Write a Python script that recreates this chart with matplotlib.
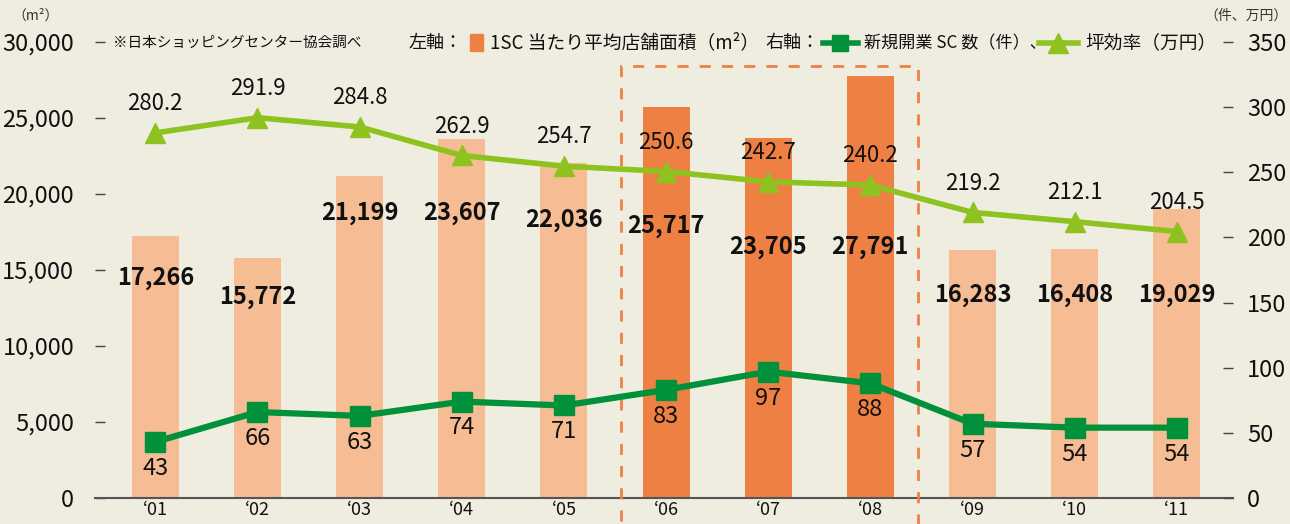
import matplotlib
matplotlib.use("Agg")
import matplotlib.pyplot as plt
from matplotlib.patches import Rectangle
from matplotlib.lines import Line2D

plt.rcParams['font.family'] = ['Noto Sans CJK JP', 'DejaVu Sans']

# データ（日本ショッピングセンター協会調べ）
years = ["‘01", "‘02", "‘03", "‘04", "‘05", "‘06", "‘07", "‘08", "‘09", "‘10", "‘11"]
area = [17266, 15772, 21199, 23607, 22036, 25717, 23705, 27791, 16283, 16408, 19029]
new_sc = [43, 66, 63, 74, 71, 83, 97, 88, 57, 54, 54]
tsubo = [280.2, 291.9, 284.8, 262.9, 254.7, 250.6, 242.7, 240.2, 219.2, 212.1, 204.5]
highlight = [False, False, False, False, False, True, True, True, False, False, False]
# 棒グラフ数値ラベルの縦位置（左軸の値）
area_label_y = [14470, 13220, 18750, 18750, 18290, 17900, 16510, 16510, 13350, 13350, 13350]

bg = "#EFEDE0"
light = "#F6BC93"
dark = "#EF8044"
green = "#00913A"
lime = "#8DC21F"
txt = "#111111"

fig = plt.figure(figsize=(12.9, 5.24), dpi=100, facecolor=bg)
ax = fig.add_axes([95 / 1290, 1 - 498 / 524, (1233 - 95) / 1290, (498 - 42) / 524])
ax.set_facecolor(bg)
x = list(range(len(years)))

cols = [dark if h else light for h in highlight]
ax.bar(x, area, width=0.46, color=cols, zorder=1)
for i in x:
    ax.text(i, area_label_y[i], f"{area[i]:,}", ha='center', va='center',
            fontsize=17, fontweight='bold', color=txt, zorder=5)

ax.set_xlim(-0.59, 10.55)
ax.set_ylim(0, 30000)
ax.set_yticks(range(0, 30001, 5000))
ax.set_yticklabels([f"{v:,}" for v in range(0, 30001, 5000)])
ax.set_xticks(x)
ax.set_xticklabels(years)
ax.tick_params(axis='x', length=0, pad=2, labelsize=13, labelcolor=txt)
ax.tick_params(axis='y', direction='in', length=7, width=1, color='#444444',
               pad=15, labelsize=17, labelcolor=txt)
for s in ['top', 'left', 'right']:
    ax.spines[s].set_visible(False)
ax.spines['bottom'].set_color('#555555')
ax.spines['bottom'].set_linewidth(1.5)

ax2 = ax.twinx()
ax2.set_ylim(0, 350)
ax2.set_yticks(range(0, 351, 50))
ax2.tick_params(axis='y', direction='in', length=7, width=1, color='#444444',
                pad=10, labelsize=17, labelcolor=txt)
for s in ax2.spines.values():
    s.set_visible(False)

ax2.plot(x, tsubo, color=lime, lw=4, marker='^', markersize=15, zorder=3)
ax2.plot(x, new_sc, color=green, lw=4.5, marker='s', markersize=14, zorder=3)
for i in x:
    ax2.annotate(f"{tsubo[i]:.1f}", (i, tsubo[i]), xytext=(0, 21), textcoords='offset points',
                 ha='center', va='center', fontsize=16, color=txt)
    ax2.annotate(str(new_sc[i]), (i, new_sc[i]), xytext=(0, -19), textcoords='offset points',
                 ha='center', va='center', fontsize=17, color=txt)

# 2006-2008 の破線枠
rect = Rectangle((4.56, -3000), 7.47 - 4.56, 28420 + 3000, fill=False,
                 edgecolor=dark, lw=2, linestyle=(0, (4, 4)), clip_on=False, zorder=4)
ax.add_patch(rect)

# 凡例・注記
fig.text(12 / 1290, 1 - 16 / 524, "（m²）", fontsize=10, ha='left', va='center', color='#333333')
fig.text(1288 / 1290, 1 - 16 / 524, "（件、万円）", fontsize=10, ha='right', va='center', color='#333333')
fig.text(113 / 1290, 1 - 43 / 524, "※日本ショッピングセンター協会調べ", fontsize=10.5,
         ha='left', va='center', color=txt)
ly = 1 - 43 / 524
fig.text(408 / 1290, ly, "左軸：", fontsize=13, ha='left', va='center', color=txt)
fig.patches.append(Rectangle((470 / 1290, ly - 8 / 524), 13 / 1290, 17 / 524,
                             transform=fig.transFigure, color=dark, figure=fig))
fig.text(490 / 1290, ly, "1SC 当たり平均店舗面積（m²）", fontsize=13.5, ha='left', va='center', color=txt)
fig.text(765 / 1290, ly, "右軸：", fontsize=13, ha='left', va='center', color=txt)
fig.lines.append(Line2D([823 / 1290, 858 / 1290], [ly, ly], transform=fig.transFigure,
                        color=green, lw=4, figure=fig))
fig.lines.append(Line2D([840 / 1290], [ly], transform=fig.transFigure,
                        color=green, marker='s', markersize=12, figure=fig))
fig.text(864 / 1290, ly, "新規開業 SC 数（件）、", fontsize=12.3, ha='left', va='center', color=txt)
fig.lines.append(Line2D([1039 / 1290, 1078 / 1290], [ly, ly], transform=fig.transFigure,
                        color=lime, lw=4, figure=fig))
fig.lines.append(Line2D([1058 / 1290], [ly], transform=fig.transFigure,
                        color=lime, marker='^', markersize=14, figure=fig))
fig.text(1085 / 1290, ly, "坪効率（万円）", fontsize=13.5, ha='left', va='center', color=txt)

fig.savefig("out.png", dpi=100, facecolor=bg)
